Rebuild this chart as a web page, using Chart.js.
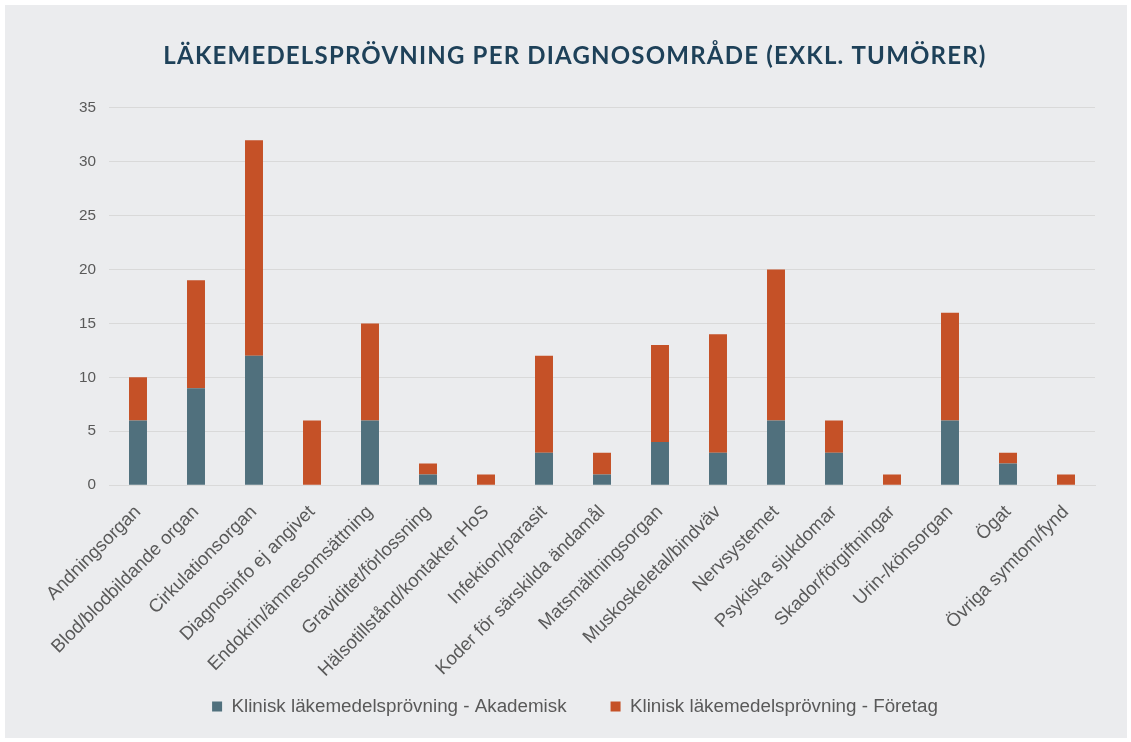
<!DOCTYPE html>
<html>
<head>
<meta charset="utf-8">
<script src="https://cdn.jsdelivr.net/npm/chart.js@4"></script>
<style>
  html, body { margin: 0; padding: 0; background: #ffffff; }
  #wrap { position: absolute; left: 5px; top: 5px; width: 1122px; height: 733px; background: #ebecee; }
  canvas { display: block; }
</style>
</head>
<body>
<div id="wrap"><canvas id="c" width="1122" height="733"></canvas></div>
<script>
const chartTitle = 'LÄKEMEDELSPRÖVNING PER DIAGNOSOMRÅDE (EXKL. TUMÖRER)';
const categories = [
  'Andningsorgan', 'Blod/blodbildande organ', 'Cirkulationsorgan', 'Diagnosinfo ej angivet',
  'Endokrin/ämnesomsättning', 'Graviditet/förlossning', 'Hälsotillstånd/kontakter HoS',
  'Infektion/parasit', 'Koder för särskilda ändamål', 'Matsmältningsorgan',
  'Muskoskeletal/bindväv', 'Nervsystemet', 'Psykiska sjukdomar', 'Skador/förgiftningar',
  'Urin-/könsorgan', 'Ögat', 'Övriga symtom/fynd'
];
const seriesNames = ['Klinisk läkemedelsprövning - Akademisk', 'Klinisk läkemedelsprövning - Företag'];
const akademisk = [6, 9, 12, 0, 6, 1, 0, 3, 1, 4, 3, 6, 3, 0, 6, 2, 0];
const foretag   = [4, 10, 20, 6, 9, 1, 1, 9, 2, 9, 11, 14, 3, 1, 10, 1, 1];
const yTicks = [0, 5, 10, 15, 20, 25, 30, 35];

const LEGEND_SHRINK = 44;
const tweakPlugin = {
  id: 'tweaks',
  afterInit(chart) {
    const tb = chart.titleBlock;
    if (tb) {
      const origDraw = tb.draw.bind(tb);
      tb.draw = function (area) {
        const ctx = chart.ctx;
        ctx.save();
        try { ctx.letterSpacing = '1.2px'; } catch (e) {}
        origDraw(area);
        ctx.restore();
      };
    }
    const lg = chart.legend;
    if (lg) {
      const origFit = lg.fit.bind(lg);
      lg.fit = function () {
        origFit();
        this.height = Math.max(this.height - LEGEND_SHRINK, 0);
      };
      const origLDraw = lg.draw.bind(lg);
      lg.draw = function (area) {
        const t = this.top, h = this.height;
        this.top = t - LEGEND_SHRINK;
        this.height = h + LEGEND_SHRINK;
        origLDraw(area);
        this.top = t;
        this.height = h;
      };
    }
  }
};

new Chart(document.getElementById('c'), {
  type: 'bar',
  data: {
    labels: categories,
    datasets: [
      { label: seriesNames[0], data: akademisk, backgroundColor: '#50707d', borderWidth: 0 },
      { label: seriesNames[1], data: foretag, backgroundColor: '#c55127', borderWidth: 0 }
    ]
  },
  options: {
    responsive: false,
    animation: false,
    devicePixelRatio: 1,
    datasets: { bar: { barPercentage: 0.62, categoryPercentage: 0.5 } },
    layout: { padding: { left: 50, right: 32, top: 0, bottom: 12 } },
    plugins: {
      title: {
        display: true,
        text: chartTitle,
        color: '#1e4159',
        font: { family: 'Lato', size: 24, weight: 'bold' },
        padding: { top: 37, bottom: 37 }
      },
      legend: {
        position: 'bottom',
        labels: {
          color: '#595959',
          font: { family: 'Liberation Sans, Arial, sans-serif', size: 18.8 },
          boxWidth: 10,
          boxHeight: 10,
          padding: 44
        }
      },
      tooltip: { enabled: false }
    },
    scales: {
      x: {
        stacked: true,
        grid: { display: false, drawTicks: false },
        border: { display: true, color: '#d9d9d9', width: 1 },
        ticks: {
          color: '#595959',
          font: { family: 'Liberation Sans, Arial, sans-serif', size: 18.5 },
          minRotation: 45,
          maxRotation: 45,
          autoSkip: false,
          padding: 16
        }
      },
      y: {
        stacked: true,
        min: 0,
        max: 35,
        afterBuildTicks(scale) { scale.ticks = yTicks.map(v => ({ value: v })); },
        afterFit(scale) { scale.width = 54; },
        grid: { color: '#d9d9d9', lineWidth: 1, drawTicks: false },
        border: { display: false },
        ticks: {
          color: '#595959',
          font: { family: 'Liberation Sans, Arial, sans-serif', size: 15.3 },
          padding: 13
        }
      }
    }
  },
  plugins: [tweakPlugin]
});
</script>
</body>
</html>
